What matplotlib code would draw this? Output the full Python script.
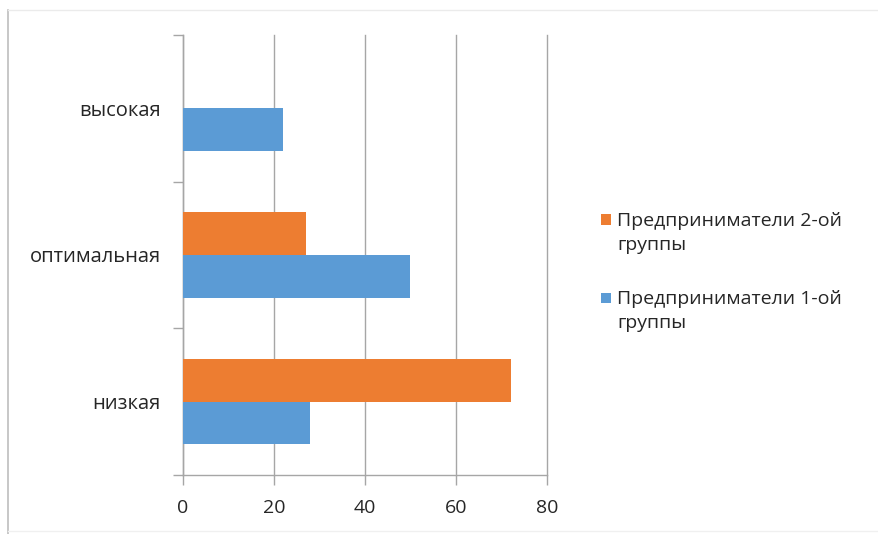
import matplotlib.pyplot as plt
from matplotlib.lines import Line2D
from matplotlib.patches import Rectangle
from matplotlib.container import BarContainer
from matplotlib.legend_handler import HandlerPatch
import numpy as np

plt.rcParams['font.family'] = ['Open Sans', 'DejaVu Sans']

# данные
categories = ['низкая', 'оптимальная', 'высокая']
group1 = [28, 50, 22]   # Предприниматели 1-ой группы
group2 = [72, 27, 0]    # Предприниматели 2-ой группы
x_ticks = [0, 20, 40, 60, 80]

blue = '#5B9BD5'
orange = '#ED7D31'
grey = '#A6A6A6'
txt = '#262626'

fig = plt.figure(figsize=(8.79, 5.34), dpi=100)
ax = fig.add_axes([183/879, 1-475/534, (547-183)/879, (475-35)/534])

y = np.arange(len(categories))
h = 0.29
ax.barh(y - h/2, group1, height=h, color=blue, label='Предприниматели 1-ой\nгруппы', zorder=3)
ax.barh(y + h/2, group2, height=h, color=orange, label='Предприниматели 2-ой\nгруппы', zorder=3)

ax.set_xlim(0, 80)
ax.set_ylim(-0.5, 2.5)
ax.set_xticks(x_ticks)
ax.set_xticklabels([str(v) for v in x_ticks], fontsize=14, color=txt)
ax.set_yticks(y)
ax.set_yticklabels(categories, fontsize=14.5, color=txt)
ax.set_yticks([-0.5, 0.5, 1.5, 2.5], minor=True)
ax.tick_params(axis='y', which='major', length=0, pad=16)
ax.tick_params(axis='y', which='minor', length=7, color=grey, width=1)
ax.tick_params(axis='x', length=7, color=grey, width=1, pad=10)

ax.grid(axis='x', color=grey, linewidth=1, zorder=0)
for gl in ax.get_xgridlines():
    gl.set_clip_on(False)
for s in ['top', 'right']:
    ax.spines[s].set_visible(False)
for s in ['left', 'bottom']:
    ax.spines[s].set_color(grey)
    ax.spines[s].set_linewidth(1)


# квадрат легенды напротив первой строки подписи
def top_square(legend, orig_handle, xdescent, ydescent, width, height, fontsize):
    sq = width
    return Rectangle((-xdescent, -ydescent + height - sq + 0.16 * fontsize), sq, sq)


def first_bar(legend_handle, orig_handle):
    legend_handle.update_from(orig_handle[0])


handles, labels = ax.get_legend_handles_labels()
leg = fig.legend(handles[::-1], labels[::-1], loc='center left',
                 bbox_to_anchor=(583/879, 1-272/534), frameon=False,
                 fontsize=14, handlelength=0.55, handleheight=2.2,
                 handletextpad=0.3, labelspacing=1.9,
                 handler_map={BarContainer: HandlerPatch(patch_func=top_square,
                                                         update_func=first_bar)})
for t in leg.get_texts():
    t.set_color(txt)
    t.set_linespacing(1.4)

# рамка вокруг диаграммы
fig.add_artist(Line2D([8/879, 8/879], [0, 1-10/534], color='#BDBDBD', lw=1.2))
fig.add_artist(Line2D([8/879, 1], [1-10/534, 1-10/534], color='#EBEBEB', lw=1))
fig.add_artist(Line2D([8/879, 1], [1-531/534, 1-531/534], color='#F0F0F0', lw=1))

fig.savefig('out.png', dpi=100)
